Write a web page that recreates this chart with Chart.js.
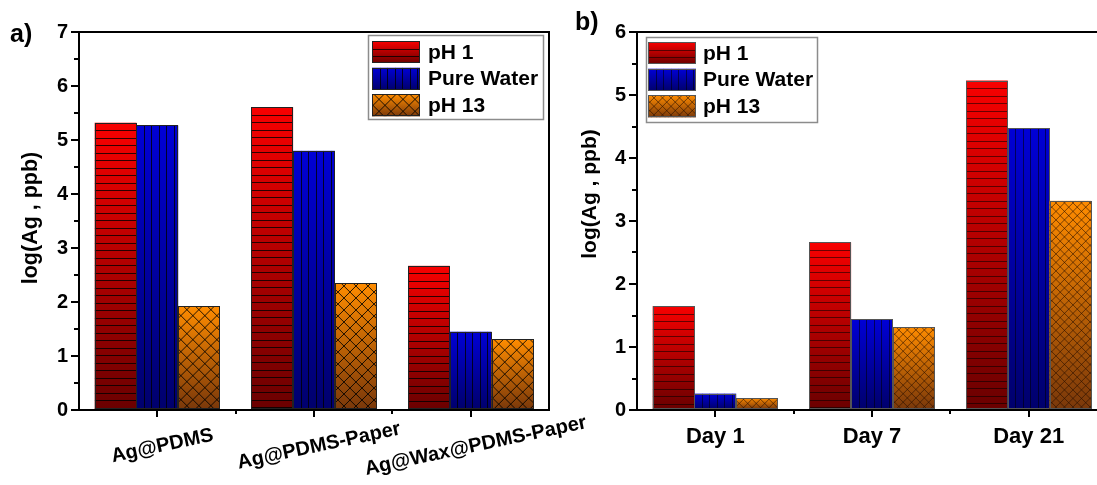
<!DOCTYPE html>
<html><head><meta charset="utf-8">
<script src="https://cdn.jsdelivr.net/npm/chart.js@4.4.1/dist/chart.umd.min.js"></script>
<style>
html,body{margin:0;padding:0;background:#fff;overflow:hidden;width:1097px;height:485px;}
#wa{position:absolute;left:0;top:0;width:620px;height:485px;z-index:2}
#wb{position:absolute;left:560px;top:0;width:560px;height:485px;z-index:1}
canvas{display:block}
</style></head><body>
<div id="wb"><canvas id="cb" width="560" height="485"></canvas></div>
<div id="wa"><canvas id="ca" width="620" height="485"></canvas></div>
<script>
const FONT = "'Liberation Sans', Arial, Helvetica, sans-serif";
// ---- Panel a) ----
const catsA = ['Ag@PDMS', 'Ag@PDMS-Paper', 'Ag@Wax@PDMS-Paper'];
const pH1A = [5.32, 5.61, 2.67];
const waterA = [5.27, 4.80, 1.45];
const pH13A = [1.92, 2.35, 1.31];
const yTicksA = [0, 1, 2, 3, 4, 5, 6, 7];
// ---- Panel b) ----
const catsB = ['Day 1', 'Day 7', 'Day 21'];
const pH1B = [1.65, 2.66, 5.23];
const waterB = [0.26, 1.44, 4.47];
const pH13B = [0.19, 1.31, 3.32];
const yTicksB = [0, 1, 2, 3, 4, 5, 6];
const seriesNames = ['pH 1', 'Pure Water', 'pH 13'];
const yTitle = 'log(Ag , ppb)';
const panelA = 'a)';
const panelB = 'b)';

const GRAD = [['#f80000', '#6a0000'], ['#0000d6', '#00006c'], ['#ff8c00', '#7a380a']];

function paint(ctx, l, t, w, h, kind, st) {
  if (h <= 0 || w <= 0) return;
  ctx.save();
  const g = ctx.createLinearGradient(0, t, 0, t + h);
  g.addColorStop(0, GRAD[kind][0]); g.addColorStop(1, GRAD[kind][1]);
  ctx.fillStyle = g;
  ctx.fillRect(l, t, w, h);
  ctx.beginPath(); ctx.rect(l, t, w, h); ctx.clip();
  ctx.lineWidth = 1;
  ctx.beginPath();
  if (kind === 0) {
    ctx.strokeStyle = st.hatch;
    for (let yy = t + st.hs; yy < t + h; yy += st.hs) {
      const yr = Math.round(yy) + 0.5;
      ctx.moveTo(l, yr); ctx.lineTo(l + w, yr);
    }
  } else if (kind === 1) {
    ctx.strokeStyle = st.hatch;
    for (let xx = l + st.vs; xx < l + w - 1; xx += st.vs) {
      const xr = Math.round(xx) + 0.5;
      ctx.moveTo(xr, t); ctx.lineTo(xr, t + h);
    }
  } else {
    ctx.strokeStyle = st.cross;
    const s = st.cs;
    for (let k = -h - s; k < w + h + s; k += s) {
      ctx.moveTo(l + k, t); ctx.lineTo(l + k + h, t + h);
      ctx.moveTo(l + k, t + h); ctx.lineTo(l + k + h, t);
    }
  }
  ctx.stroke();
  ctx.restore();
  ctx.save();
  ctx.strokeStyle = st.border; ctx.lineWidth = 1;
  ctx.strokeRect(Math.round(l) + 0.5, Math.round(t) + 0.5, Math.round(w) - 1, Math.round(h) - 1);
  ctx.restore();
}

function makeDecor(st) {
  return {
    id: 'decor',
    afterDatasetsDraw(chart) {
      const ctx = chart.ctx;
      chart.data.datasets.forEach((ds, i) => {
        const meta = chart.getDatasetMeta(i);
        meta.data.forEach(el => {
          const p = el.getProps(['x', 'y', 'base', 'width'], true);
          const l = p.x - p.width / 2, t = Math.min(p.y, p.base), h = Math.abs(p.base - p.y);
          paint(ctx, l, t, p.width, h, i, st);
        });
      });
    },
    afterDraw(chart) {
      const ctx = chart.ctx, ca = chart.chartArea;
      const xs = chart.scales.x, ys = chart.scales.y;
      ctx.save();
      // frame
      ctx.strokeStyle = '#000'; ctx.lineWidth = 2;
      ctx.beginPath();
      ctx.moveTo(ca.left - 1, ca.top); ctx.lineTo(ca.right + 1, ca.top);
      ctx.moveTo(ca.right, ca.top); ctx.lineTo(ca.right, ca.bottom);
      ctx.moveTo(ca.left - 1, ca.bottom); ctx.lineTo(ca.right + 1, ca.bottom);
      ctx.moveTo(ca.left, ca.top - 1); ctx.lineTo(ca.left, ca.bottom + 1);
      ctx.stroke();
      // minor y ticks
      ctx.beginPath();
      for (let v = ys.min + 0.5; v < ys.max; v += 1) {
        const yy = Math.round(ys.getPixelForValue(v));
        ctx.moveTo(ca.left - 5, yy); ctx.lineTo(ca.left, yy);
      }
      // minor x ticks between categories
      const n = chart.data.labels.length;
      for (let i = 0; i < n - 1; i++) {
        const xx = Math.round((xs.getPixelForTick(i) + xs.getPixelForTick(i + 1)) / 2);
        ctx.moveTo(xx, ca.bottom); ctx.lineTo(xx, ca.bottom + 4);
      }
      ctx.stroke();
      // x category labels
      ctx.fillStyle = '#000';
      ctx.font = 'bold ' + st.xFont + 'px ' + FONT;
      ctx.textAlign = 'center';
      chart.data.labels.forEach((lab, i) => {
        const xx = xs.getPixelForTick(i) + st.xdx;
        ctx.save();
        ctx.translate(xx, st.xy);
        ctx.rotate(-st.xRot * Math.PI / 180);
        ctx.textBaseline = st.xBase;
        ctx.fillText(lab, 0, 0);
        ctx.restore();
      });
      // y title
      ctx.save();
      ctx.font = 'bold ' + st.titleFont + 'px ' + FONT;
      ctx.translate(st.tx, st.ty);
      ctx.rotate(-Math.PI / 2);
      ctx.textAlign = 'center'; ctx.textBaseline = 'middle';
      ctx.fillText(yTitle, 0, 0);
      ctx.restore();
      // panel letter
      ctx.font = 'bold 25px ' + FONT;
      ctx.textAlign = 'left'; ctx.textBaseline = 'alphabetic';
      ctx.fillText(st.letter, st.lx, st.ly);
      // legend
      const L = st.legend;
      const bx = L.anchorRight ? ca.right + L.dx - L.w : ca.left + L.dx;
      const by = ca.top + L.dy;
      ctx.fillStyle = '#fff';
      ctx.fillRect(bx, by, L.w, L.h);
      ctx.strokeStyle = '#8c8c8c'; ctx.lineWidth = 1.5;
      ctx.strokeRect(bx + 0.5, by + 0.5, L.w, L.h);
      ctx.font = 'bold 21px ' + FONT;
      ctx.textBaseline = 'middle'; ctx.textAlign = 'left';
      seriesNames.forEach((name, i) => {
        const ry = by + L.r0 + i * L.rs;
        paint(ctx, bx + L.sx, ry, L.sw, L.sh, i, st);
        ctx.fillStyle = '#000';
        ctx.fillText(name, bx + L.tx, ry + L.sh / 2 + 1);
      });
      ctx.restore();
    }
  };
}

function makeChart(id, cats, d1, d2, d3, yTicks, st) {
  const common = { categoryPercentage: 0.8, barPercentage: 1.0, backgroundColor: 'rgba(0,0,0,0)', borderWidth: 0 };
  return new Chart(document.getElementById(id), {
    type: 'bar',
    data: {
      labels: cats,
      datasets: [
        Object.assign({ label: seriesNames[0], data: d1 }, common),
        Object.assign({ label: seriesNames[1], data: d2 }, common),
        Object.assign({ label: seriesNames[2], data: d3 }, common)
      ]
    },
    options: {
      responsive: false, animation: false, devicePixelRatio: 1,
      layout: { padding: { top: st.padTop, right: st.padRight, left: 0, bottom: 0 } },
      plugins: { legend: { display: false }, tooltip: { enabled: false } },
      scales: {
        x: {
          type: 'category', offset: true,
          grid: { display: true, offset: false, drawOnChartArea: false, drawTicks: true, tickLength: 7, lineWidth: 2, color: '#000' },
          border: { display: true, color: '#000', width: 2 },
          ticks: { display: false },
          afterFit(s) { s.height = 75; }
        },
        y: {
          min: yTicks[0], max: yTicks[yTicks.length - 1],
          ticks: { stepSize: 1, color: '#000', padding: 3, font: { family: FONT, size: st.yFont, weight: 'bold' } },
          grid: { display: true, drawOnChartArea: false, drawTicks: true, tickLength: 8, lineWidth: 2, color: '#000' },
          border: { display: true, color: '#000', width: 2 },
          afterFit(s) { s.width = st.yWidth; }
        }
      }
    },
    plugins: [makeDecor(st)]
  });
}

makeChart('ca', catsA, pH1A, waterA, pH13A, yTicksA, {
  padTop: 32, padRight: 71, yWidth: 79, yFont: 20,
  hatch: 'rgba(0,0,0,0.8)', cross: 'rgba(0,0,0,0.85)', border: '#222', hs: 7.5, vs: 7.5, cs: 12,
  xFont: 20, xRot: 12, xdx: 5, xy: 446, xBase: 'middle',
  titleFont: 21.5, tx: 31, ty: 218, letter: panelA, lx: 10, ly: 42,
  legend: { anchorRight: true, dx: -6, dy: 3, w: 175, h: 84, sx: 4, sw: 48, sh: 22, r0: 6, rs: 26.7, tx: 60 }
});
makeChart('cb', catsB, pH1B, waterB, pH13B, yTicksB, {
  padTop: 32, padRight: 13, yWidth: 77, yFont: 20,
  hatch: 'rgba(0,0,0,0.55)', cross: 'rgba(40,15,0,0.6)', border: '#555', hs: 7.5, vs: 7.5, cs: 8.5,
  xFont: 22, xRot: 0, xdx: 0, xy: 443, xBase: 'alphabetic',
  titleFont: 21, tx: 30, ty: 194, letter: panelB, lx: 15, ly: 30,
  legend: { anchorRight: false, dx: 9, dy: 5, w: 171, h: 85, sx: 2, sw: 48, sh: 22, r0: 5, rs: 26.7, tx: 57 }
});
</script>
</body></html>
